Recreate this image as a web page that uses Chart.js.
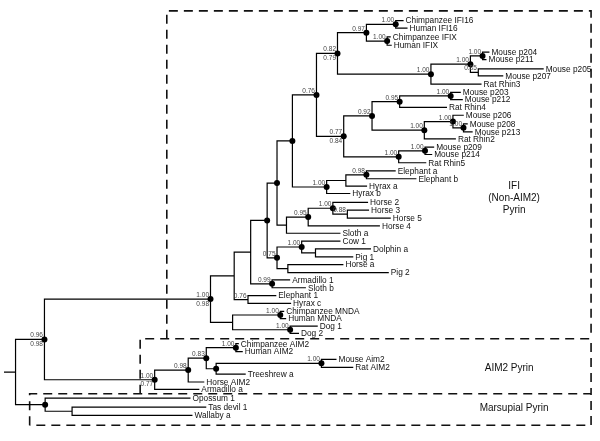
<!DOCTYPE html>
<html>
<head>
<meta charset="utf-8">
<script src="https://cdn.jsdelivr.net/npm/chart.js@4/dist/chart.umd.min.js"></script>
<style>
    html, body { margin: 0; padding: 0; background: #fff; }
    #wrap { width: 600px; height: 441px; }
</style>
</head>
<body>
<div id="wrap"><canvas id="treeChart" width="600" height="441"></canvas></div>
<script>
// Leaves, top to bottom: name, row position and tip (cumulative branch length)
const leafNames = [
    'Chimpanzee IFI16', 'Human IFI16', 'Chimpanzee IFIX', 'Human IFIX',
    'Mouse p204', 'Mouse p211', 'Mouse p205', 'Mouse p207', 'Rat Rhin3',
    'Mouse p203', 'Mouse p212', 'Rat Rhin4',
    'Mouse p206', 'Mouse p208', 'Mouse p213', 'Rat Rhin2',
    'Mouse p209', 'Mouse p214', 'Rat Rhin5',
    'Elephant a', 'Elephant b', 'Hyrax a', 'Hyrax b',
    'Horse 2', 'Horse 3', 'Horse 5', 'Horse 4', 'Sloth a',
    'Cow 1', 'Dolphin a', 'Pig 1', 'Horse a', 'Pig 2',
    'Armadillo 1', 'Sloth b', 'Elephant 1', 'Hyrax c',
    'Chimpanzee MNDA', 'Human MNDA', 'Dog 1', 'Dog 2',
    'Chimpanzee AIM2', 'Human AIM2', 'Mouse Aim2', 'Rat AIM2', 'Treeshrew a',
    'Horse AIM2', 'Armadillo a',
    'Opossum 1', 'Tas devil 1', 'Wallaby a'
];
const leafY = [
    17, 24.5, 33.5, 42,
    49, 56.7, 66, 73.3, 81.7,
    90, 97.3, 105.3,
    113.3, 122, 130.3, 137.3,
    145.7, 153.3, 161.7,
    170, 178, 185.5, 193,
    202, 210, 218, 226, 233.5,
    241.5, 249.5, 257.5, 265.5, 273.5,
    281, 289, 297, 305,
    313, 320.5, 328, 335.5,
    346, 354, 362, 370, 377,
    385, 392.5,
    401.5, 410.5, 419
];
const leafX = [
    405, 409, 392, 393,
    492, 489, 547, 506, 484,
    463, 465, 449,
    466, 470, 475, 458,
    436, 434, 428,
    397, 418, 368, 351,
    369, 370, 392, 381, 341,
    341, 372, 354, 344, 390,
    290, 306, 276, 291,
    284, 286, 318, 299,
    238, 242, 337, 354, 245,
    203, 198,
    189, 205, 191
];

// Internal nodes: id, children, depth, support values (above / below), dot marker
const cladeIds = [
    'ifi16', 'ifix', 'n097', 'p204', 'p205', 'm1', 'rh3', 'n082',
    'p203', 'n095a', 'p208', 'p206', 'rh2', 'n092', 'p209', 'rh5', 'n077', 'n076a',
    'eleph', 'hyra', 'hyrb', 'v', 'n088', 'h2', 'n095b', 'w', 'x',
    'dp', 'cow', 'hp', 'n075', 'y', 'n099', 'aa', 'n076b', 'ab',
    'mnda', 'dog', 'ad', 'ac',
    'ah', 'mr', 'ts', 'n083', 'n098', 'aim2', 'n096',
    'tw', 'mars', 'root'
];
const cladeChildren = [
    ['Chimpanzee IFI16', 'Human IFI16'], ['Chimpanzee IFIX', 'Human IFIX'], ['ifi16', 'ifix'],
    ['Mouse p204', 'Mouse p211'], ['Mouse p205', 'Mouse p207'], ['p204', 'p205'], ['m1', 'Rat Rhin3'],
    ['n097', 'rh3'],
    ['Mouse p203', 'Mouse p212'], ['p203', 'Rat Rhin4'], ['Mouse p208', 'Mouse p213'],
    ['Mouse p206', 'p208'], ['p206', 'Rat Rhin2'], ['n095a', 'rh2'],
    ['Mouse p209', 'Mouse p214'], ['p209', 'Rat Rhin5'], ['n092', 'rh5'], ['n082', 'n077'],
    ['Elephant a', 'Elephant b'], ['eleph', 'Hyrax a'], ['hyra', 'Hyrax b'], ['n076a', 'hyrb'],
    ['Horse 3', 'Horse 5'], ['Horse 2', 'n088'], ['h2', 'Horse 4'], ['n095b', 'Sloth a'], ['v', 'w'],
    ['Dolphin a', 'Pig 1'], ['Cow 1', 'dp'], ['Horse a', 'Pig 2'], ['cow', 'hp'], ['x', 'n075'],
    ['Armadillo 1', 'Sloth b'], ['y', 'n099'], ['Elephant 1', 'Hyrax c'], ['aa', 'n076b'],
    ['Chimpanzee MNDA', 'Human MNDA'], ['Dog 1', 'Dog 2'], ['mnda', 'dog'], ['ab', 'ad'],
    ['Chimpanzee AIM2', 'Human AIM2'], ['Mouse Aim2', 'Rat AIM2'], ['mr', 'Treeshrew a'],
    ['ah', 'ts'], ['n083', 'Horse AIM2'], ['n098', 'Armadillo a'], ['ac', 'aim2'],
    ['Tas devil 1', 'Wallaby a'], ['Opossum 1', 'tw'], ['n096', 'mars']
];
const cladeX = [
    397, 388.3, 367.3, 485, 480.7, 472.7, 432.7, 338,
    452.7, 401, 465.7, 455, 426, 373, 426.7, 400, 344.3, 316.7,
    367.3, 346.5, 327, 292.3, 348, 333.3, 308.3, 286.3, 276.7,
    315.7, 301.7, 287.7, 276.7, 266.7, 271.7, 250, 247.3, 233.3,
    280, 290, 231.7, 209.3,
    235, 321.7, 215, 205, 186.7, 152.7, 41,
    69, 41.7, 11.7
];
const supportTop = [
    '1.00', '1.00', '0.97', '1.00', '0.85', '1.00', '1.00', '0.82',
    '1.00', '0.95', '1.00', '1.00', '1.00', '0.92', '1.00', '1.00', '0.77', '0.76',
    '0.98', '', '1.00', '', '0.88', '1.00', '0.95', '', '',
    '', '1.00', '', '0.75', '', '0.99', '', '0.76', '',
    '1.00', '1.00', '', '1.00',
    '1.00', '1.00', '', '0.83', '0.98', '1.00', '0.96',
    '', '', ''
];
const supportBottom = [
    '', '', '', '', '', '', '', '0.79',
    '', '', '', '', '', '', '', '', '0.84', '',
    '', '', '', '', '', '', '', '', '',
    '', '', '', '', '', '', '', '', '',
    '', '', '', '0.98',
    '', '', '', '', '', '0.77', '0.98',
    '', '', ''
];
const cladeDot = [
    1, 1, 1, 1, 0, 1, 1, 1,
    1, 1, 1, 1, 1, 1, 1, 1, 1, 1,
    1, 0, 1, 1, 0, 1, 1, 0, 1,
    0, 1, 0, 1, 1, 1, 0, 0, 0,
    1, 1, 0, 1,
    1, 1, 1, 1, 1, 1, 1,
    0, 1, 0
];

// Dashed group boxes (top to bottom) and their captions
const boxNames = [['IFI', '(Non-AIM2)', 'Pyrin'], ['AIM2 Pyrin'], ['Marsupial Pyrin']];
const boxLeft = [165, 138, 26];
const boxTop = [7, 341, 397];
const boxBottom = [341, 397, 429];
const boxRight = 595;
const captionX = [517, 512, 517];
const captionY = [198, 371, 412];

document.addEventListener('DOMContentLoaded', function () {
    // Node positions: leaves directly, clades at the middle of first/last child
    const pos = {};
    leafNames.forEach((name, i) => { pos[name] = { x: leafX[i], y: leafY[i] }; });
    const cladeIndex = {};
    cladeIds.forEach((id, i) => { cladeIndex[id] = i; });

    function place(id) {
        if (pos[id]) return pos[id];
        const i = cladeIndex[id];
        const kids = cladeChildren[i].map(place);
        pos[id] = { x: cladeX[i], y: (kids[0].y + kids[kids.length - 1].y) / 2 };
        return pos[id];
    }
    place('root');

    // Branch elbows, separated by gaps
    const gap = { x: null, y: null };
    const branches = [];
    cladeIds.forEach((id, i) => {
        const p = pos[id];
        cladeChildren[i].forEach(child => {
            const c = pos[child];
            branches.push({ x: p.x, y: p.y }, { x: p.x, y: c.y }, { x: c.x, y: c.y }, gap);
        });
    });
    branches.push({ x: 0, y: pos.root.y }, { x: pos.root.x, y: pos.root.y }, gap);

    const dots = cladeIds.filter((id, i) => cladeDot[i]).map(id => ({ x: pos[id].x, y: pos[id].y }));

    // Box frames: left, top, right of each box, plus bottom of the last
    const frame = [];
    boxLeft.forEach((left, i) => {
        frame.push({ x: left, y: boxBottom[i] }, { x: left, y: boxTop[i] },
            { x: boxRight, y: boxTop[i] }, { x: boxRight, y: boxBottom[i] });
        if (i === boxLeft.length - 1) frame.push({ x: left, y: boxBottom[i] });
        frame.push(gap);
    });

    const font = '"Liberation Sans", Arial, Helvetica, sans-serif';

    // Labels: leaf names, support values, box captions
    const treeText = {
        id: 'treeText',
        afterDatasetsDraw(chart) {
            const ctx = chart.ctx;
            const xs = chart.scales.x;
            const ys = chart.scales.y;
            ctx.save();

            ctx.fillStyle = '#111';
            ctx.font = '8.3px ' + font;
            ctx.textAlign = 'left';
            ctx.textBaseline = 'middle';
            leafNames.forEach((name, i) => {
                ctx.fillText(name, xs.getPixelForValue(leafX[i]) + 2, ys.getPixelForValue(leafY[i]) + 0.5);
            });

            ctx.fillStyle = '#444';
            ctx.font = '6.5px ' + font;
            ctx.textAlign = 'right';
            cladeIds.forEach((id, i) => {
                const px = xs.getPixelForValue(pos[id].x) - 1.5;
                const py = ys.getPixelForValue(pos[id].y);
                if (supportTop[i]) {
                    ctx.textBaseline = 'bottom';
                    ctx.fillText(supportTop[i], px, py - 0.5);
                }
                if (supportBottom[i]) {
                    ctx.textBaseline = 'top';
                    ctx.fillText(supportBottom[i], px, py + 1.5);
                }
            });

            ctx.fillStyle = '#111';
            ctx.font = '10px ' + font;
            ctx.textAlign = 'center';
            ctx.textBaseline = 'middle';
            boxNames.forEach((lines, i) => {
                lines.forEach((line, k) => {
                    const yy = captionY[i] + (k - (lines.length - 1) / 2) * 12;
                    ctx.fillText(line, xs.getPixelForValue(captionX[i]), ys.getPixelForValue(yy));
                });
            });
            ctx.restore();
        }
    };

    const ctx = document.getElementById('treeChart').getContext('2d');
    new Chart(ctx, {
        type: 'line',
        data: {
            datasets: [
                {
                    label: 'branches',
                    data: branches,
                    borderColor: '#000',
                    borderWidth: 1.2,
                    pointRadius: 0,
                    spanGaps: false,
                    tension: 0,
                },
                {
                    label: 'nodes',
                    data: dots,
                    showLine: false,
                    pointRadius: 3,
                    pointBackgroundColor: '#000',
                    pointBorderWidth: 0,
                },
                {
                    label: 'groups',
                    data: frame,
                    borderColor: '#111',
                    borderWidth: 1.6,
                    borderDash: [9, 6],
                    pointRadius: 0,
                    spanGaps: false,
                    tension: 0,
                },
            ],
        },
        options: {
            responsive: false,
            animation: false,
            layout: { padding: 0 },
            scales: {
                x: { type: 'linear', min: 0, max: 600, display: false },
                y: { type: 'linear', min: 0, max: 441, reverse: true, display: false },
            },
            plugins: {
                legend: { display: false },
                tooltip: { enabled: false },
            },
        },
        plugins: [treeText],
    });
});
</script>
</body>
</html>
